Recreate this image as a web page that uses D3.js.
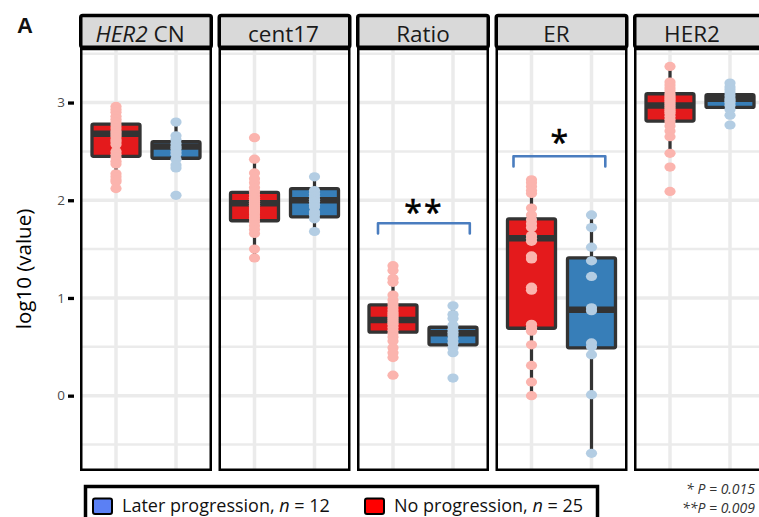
<!DOCTYPE html>
<html><head><meta charset="utf-8">
<script src="https://cdn.jsdelivr.net/npm/d3@7"></script>
<style>body{margin:0;background:#fff}svg{display:block}</style>
</head><body>
<svg id="c" width="759" height="517"></svg>
<script>
// ---------------- data ----------------
const panels = ["HER2 CN", "cent17", "Ratio", "ER", "HER2"];
const groups = ["No progression", "Later progression"];   // x order inside each panel
const legendLabels = ["Later progression", "No progression"];
const legendN = [12, 25];

// box stats per panel: [lowerWhisker, q1, median, q3, upperWhisker]
const noProgBox = [
  [2.12, 2.45, 2.68, 2.78, 2.96],
  [1.41, 1.79, 1.97, 2.08, 2.42],
  [0.39, 0.65, 0.775, 0.93, 1.34],
  [0.00, 0.69, 1.61, 1.81, 2.21],
  [2.48, 2.81, 2.97, 3.09, 3.37]
];
const laterProgBox = [
  [2.34, 2.43, 2.55, 2.60, 2.80],
  [1.68, 1.83, 2.00, 2.12, 2.24],
  [0.44, 0.52, 0.64, 0.70, 0.92],
  [-0.59, 0.49, 0.88, 1.41, 1.85],
  [2.87, 2.95, 3.04, 3.08, 3.20]
];
// individual values (log10)
const noProgPoints = [
  [2.96, 2.93, 2.90, 2.86, 2.83, 2.80, 2.77, 2.74, 2.71, 2.69, 2.67, 2.65, 2.62, 2.60, 2.57, 2.50, 2.47, 2.44, 2.40, 2.37, 2.27, 2.24, 2.21, 2.19, 2.12],
  [2.64, 2.42, 2.28, 2.22, 2.18, 2.13, 2.09, 2.06, 2.03, 2.01, 1.99, 1.97, 1.95, 1.93, 1.91, 1.89, 1.87, 1.84, 1.81, 1.78, 1.74, 1.70, 1.66, 1.50, 1.41],
  [1.33, 1.28, 1.20, 1.16, 1.03, 0.98, 0.94, 0.91, 0.88, 0.85, 0.83, 0.81, 0.79, 0.77, 0.75, 0.73, 0.70, 0.67, 0.64, 0.60, 0.56, 0.49, 0.44, 0.39, 0.21],
  [2.21, 2.18, 2.14, 2.10, 2.07, 1.92, 1.85, 1.80, 1.76, 1.72, 1.64, 1.61, 1.58, 1.43, 1.40, 1.11, 1.08, 0.73, 0.70, 0.68, 0.66, 0.52, 0.31, 0.14, 0.00],
  [3.37, 3.21, 3.18, 3.15, 3.12, 3.09, 3.07, 3.05, 3.03, 3.01, 2.99, 2.97, 2.95, 2.93, 2.91, 2.89, 2.86, 2.83, 2.80, 2.76, 2.71, 2.65, 2.48, 2.34, 2.09]
];
const laterProgPoints = [
  [2.80, 2.66, 2.62, 2.58, 2.55, 2.53, 2.50, 2.47, 2.42, 2.36, 2.33, 2.05],
  [2.24, 2.10, 2.07, 2.04, 2.01, 1.99, 1.96, 1.93, 1.88, 1.85, 1.81, 1.68],
  [0.92, 0.83, 0.79, 0.72, 0.68, 0.65, 0.62, 0.58, 0.54, 0.49, 0.44, 0.18],
  [1.85, 1.72, 1.52, 1.38, 1.22, 0.90, 0.87, 0.54, 0.50, 0.42, 0.01, -0.59],
  [3.20, 3.16, 3.13, 3.10, 3.07, 3.04, 3.02, 3.00, 2.97, 2.93, 2.87, 2.77]
];
const yTicks = [0, 1, 2, 3];
const sigPanels = ["Ratio", "ER"];
const sigMarks = ["**", "*"];
const sigTop = [1.765, 2.45];
const sigFoot = [1.66, 2.345];
const pLabels = ["* P = 0.015", "**P = 0.009"];

// ---------------- layout ----------------
const svg = d3.select("#c");
const plotTop = 49, plotBottom = 471, stripTop = 15.5;
const panelX = d3.scaleBand().domain(panels).range([80, 766]).paddingInner(6.5 / 138.5).paddingOuter(0);
const bw = panelX.bandwidth();
const gx = d3.scaleLinear().domain([0.4, 2.6]).range([0, bw]);
const gpos = d3.scaleOrdinal().domain(groups).range([1, 2]);
const y = d3.scaleLinear().domain([-0.771, 3.548]).range([plotBottom, plotTop]);
const stripDx = [-6, -1, 0, -5, -8];
const bracketX = [[-0.25, 0.28], [-0.3, 0.23]];
const sigDy = [1, -2.5];

const boxFill = {"No progression": "#e41a1c", "Later progression": "#377eb8"};
const ptFill = {"No progression": "#fbb4ae", "Later progression": "#b3cde3"};
const dark = "#333333";
const FONT = "'Open Sans', 'DejaVu Sans', sans-serif";

svg.append("rect").attr("width", 759).attr("height", 517).attr("fill", "#fff");

// panel label
svg.append("text").attr("x", 17).attr("y", 32.5).attr("font-family", "'Liberation Sans', Arial, sans-serif")
  .attr("font-weight", "bold").attr("font-size", 22).attr("fill", "#111").text("A");

// y axis
const yAxis = d3.axisLeft(y).tickValues(yTicks).tickSize(6).tickPadding(3).tickFormat(d3.format("d"));
const ax = svg.append("g").attr("transform", "translate(74,0)").call(yAxis);
ax.select(".domain").remove();
ax.selectAll(".tick line").attr("stroke", "#000").attr("stroke-width", 3.3);
ax.selectAll(".tick text").attr("font-family", FONT).attr("font-size", 13.5).attr("fill", "#4d4d4d");

svg.append("text").attr("transform", "translate(31,269) rotate(-90)").attr("text-anchor", "middle")
  .attr("font-family", FONT).attr("font-size", 20.5).attr("fill", "#000").text("log10 (value)");

// panels
panels.forEach((p, i) => {
  const g = svg.append("g").attr("transform", `translate(${panelX(p)},0)`);
  // grid
  const minor = d3.range(-0.5, 3.6, 1);
  g.selectAll(".gmin").data(minor).join("line")
    .attr("x1", 0).attr("x2", bw).attr("y1", d => y(d)).attr("y2", d => y(d))
    .attr("stroke", "#ebebeb").attr("stroke-width", 2.5);
  g.selectAll(".gmaj").data(yTicks).join("line")
    .attr("x1", 0).attr("x2", bw).attr("y1", d => y(d)).attr("y2", d => y(d))
    .attr("stroke", "#ebebeb").attr("stroke-width", 3.5);
  g.selectAll(".gv").data(groups).join("line")
    .attr("x1", d => gx(gpos(d))).attr("x2", d => gx(gpos(d))).attr("y1", plotTop).attr("y2", plotBottom)
    .attr("stroke", "#ebebeb").attr("stroke-width", 3.5);

  const boxes = [noProgBox[i], laterProgBox[i]];
  const pts = [noProgPoints[i], laterProgPoints[i]];
  groups.forEach((grp, k) => {
    const b = boxes[k];
    const cx = gx(gpos(grp));
    const hw = (gx(1.4) - gx(0.6)) / 2;
    // whisker
    g.append("line").attr("x1", cx).attr("x2", cx).attr("y1", y(b[0])).attr("y2", y(b[4]))
      .attr("stroke", dark).attr("stroke-width", 3.2);
    // box
    g.append("rect").attr("x", cx - hw).attr("width", 2 * hw)
      .attr("y", y(b[3])).attr("height", y(b[1]) - y(b[3]))
      .attr("fill", boxFill[grp]).attr("stroke", dark).attr("stroke-width", 3.3)
      .attr("stroke-linejoin", "round").attr("rx", 1.5);
    g.append("line").attr("x1", cx - hw).attr("x2", cx + hw).attr("y1", y(b[2])).attr("y2", y(b[2]))
      .attr("stroke", dark).attr("stroke-width", 6.5);
    // points
    g.selectAll(null).data(pts[k]).join("ellipse")
      .attr("cx", cx).attr("cy", d => y(d)).attr("rx", 5.6).attr("ry", 4.6)
      .attr("fill", ptFill[grp]);
  });

  // panel border
  g.append("rect").attr("x", 1.25).attr("y", plotTop).attr("width", bw - 2.5).attr("height", plotBottom - plotTop - 1.25)
    .attr("fill", "none").attr("stroke", "#000").attr("stroke-width", 2.5);
  // strip
  g.append("rect").attr("x", 0.75).attr("y", stripTop).attr("width", bw - 1.5).attr("height", plotTop - stripTop - 1.75)
    .attr("fill", "#d9d9d9").attr("stroke", "#000").attr("stroke-width", 3.5).attr("rx", 2);
  const st = g.append("text").attr("x", bw / 2 + stripDx[i]).attr("y", 41.5).attr("text-anchor", "middle")
    .attr("font-family", FONT).attr("font-size", 22.5).attr("fill", "#1a1a1a");
  if (p === "HER2 CN") {
    st.append("tspan").attr("font-style", "italic").text("HER2");
    st.append("tspan").text(" CN");
  } else st.text(p);

  // significance
  const si = sigPanels.indexOf(p);
  if (si >= 0) {
    const x1 = gx(gpos(groups[0]) + bracketX[si][0]);
    const x2 = gx(gpos(groups[1]) + bracketX[si][1]);
    g.append("path")
      .attr("d", `M${x1},${y(sigFoot[si])}V${y(sigTop[si])}H${x2}V${y(sigFoot[si])}`)
      .attr("fill", "none").attr("stroke", "#4a7dbf").attr("stroke-width", 2.6)
      .attr("stroke-linejoin", "round").attr("stroke-linecap", "round");
    g.append("text").attr("x", (x1 + x2) / 2).attr("y", y(sigTop[si]) + sigDy[si]).attr("text-anchor", "middle")
      .attr("font-family", FONT).attr("font-size", 32).attr("letter-spacing", si === 0 ? 2 : 0)
      .attr("stroke", "#000").attr("stroke-width", 0.6)
      .attr("fill", "#000").text(sigMarks[si]);
  }
});

// legend
const lg = svg.append("g");
lg.append("rect").attr("x", 85.5).attr("y", 486.5).attr("width", 512).attr("height", 45)
  .attr("fill", "#fff").attr("stroke", "#000").attr("stroke-width", 3.5);
const keyFill = {"Later progression": "#5b80f4", "No progression": "#ff0000"};
const keyX = [93, 365];
legendLabels.forEach((lab, i) => {
  lg.append("rect").attr("x", keyX[i]).attr("y", 498.5).attr("width", 19).attr("height", 15.5)
    .attr("fill", keyFill[lab]).attr("stroke", "#000").attr("stroke-width", 2).attr("rx", 2);
  const t = lg.append("text").attr("x", keyX[i] + 29).attr("y", 512.3).attr("font-family", FONT)
    .attr("font-size", 18).attr("fill", "#111");
  t.append("tspan").text(lab + ", ");
  t.append("tspan").attr("font-style", "italic").text("n");
  t.append("tspan").text(" = " + legendN[i]);
});

// p-value notes
pLabels.forEach((s, i) => {
  svg.append("text").attr("x", 755).attr("y", 494 + i * 19).attr("text-anchor", "end")
    .attr("font-family", FONT).attr("font-style", "italic").attr("font-size", 14).attr("fill", "#333").text(s);
});
</script>
</body></html>
